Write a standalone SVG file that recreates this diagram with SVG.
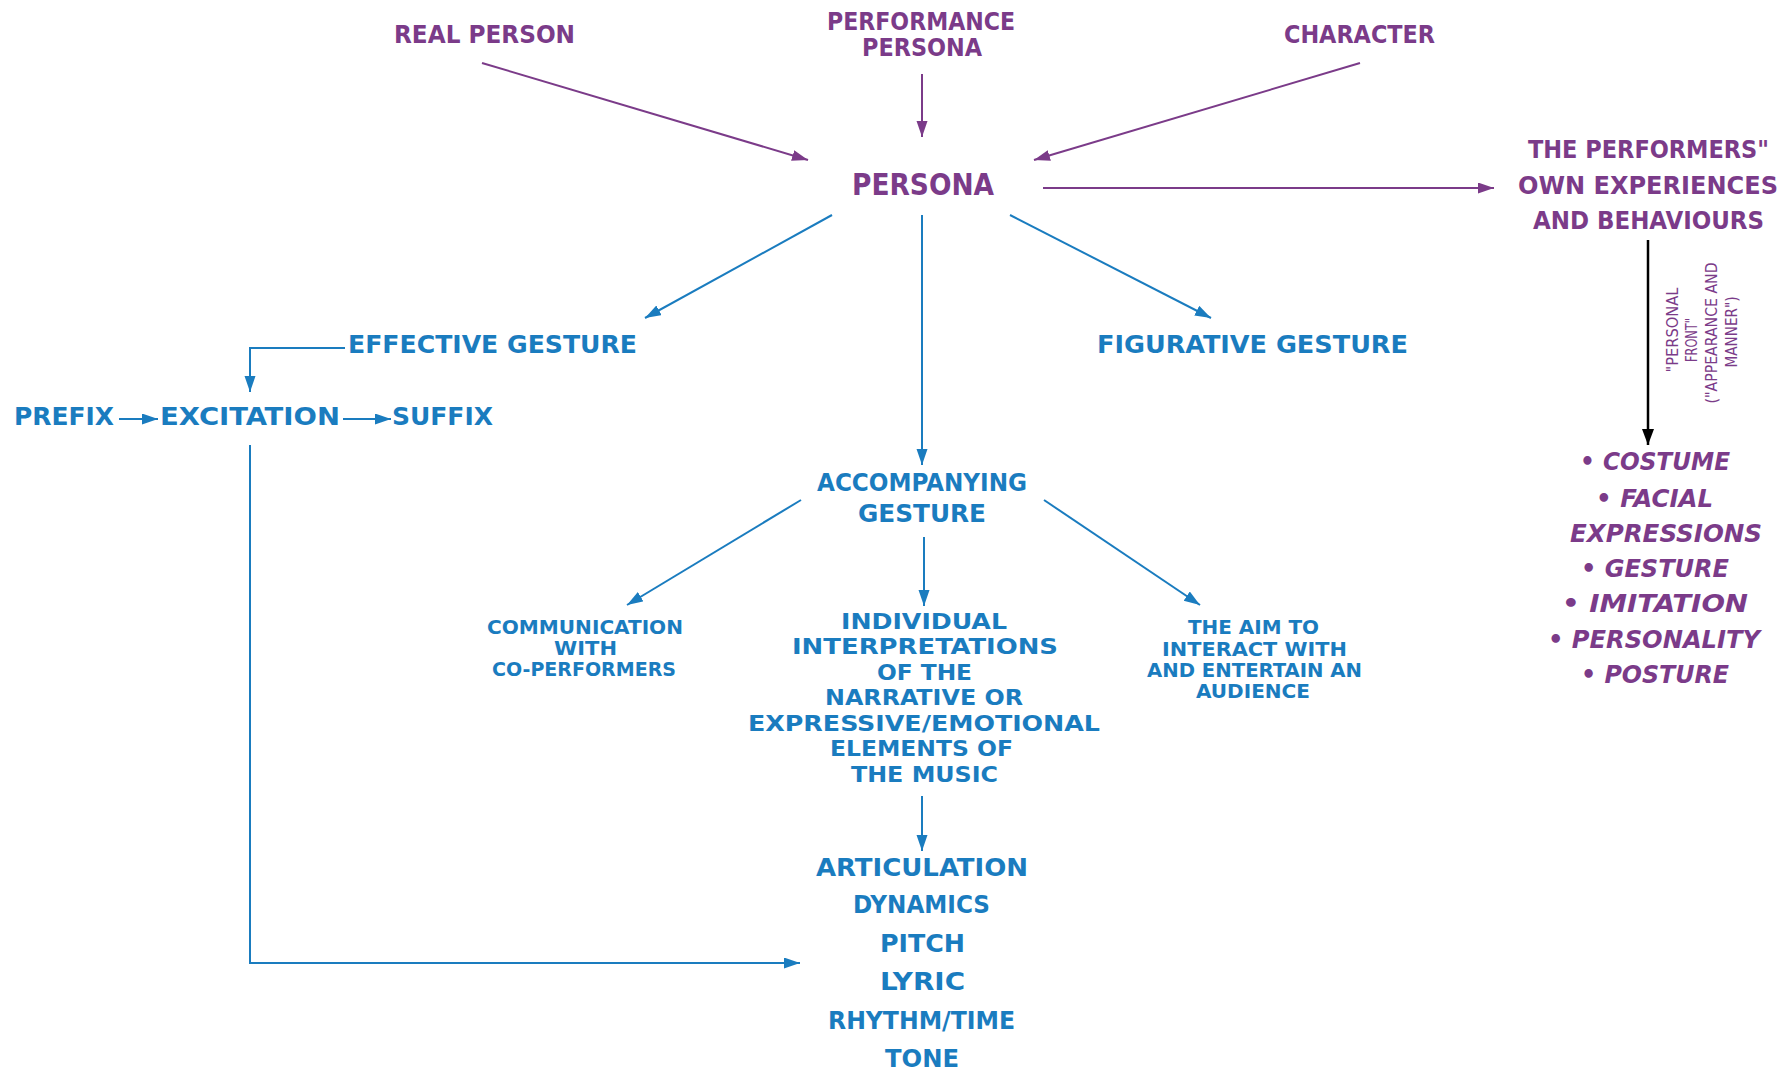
<svg xmlns="http://www.w3.org/2000/svg" width="1791" height="1072" viewBox="0 0 1791 1072">
  <defs>
    <style>
      text { font-family: "DejaVu Sans Condensed", "DejaVu Sans", sans-serif; font-weight: bold; }
      .p { fill: #7b3b89; }
      .b { fill: #1a7cbf; }
      .s25 { font-size: 25px; }
      .s22 { font-size: 22px; }
      .s19 { font-size: 19px; }
      .s30 { font-size: 30px; }
      .s16 { font-size: 16px; font-weight: normal; }
      .it { font-style: italic; font-size: 24px; }
      .lp { stroke: #7b3b89; stroke-width: 2; fill: none; marker-end: url(#ap); }
      .lb { stroke: #1a7cbf; stroke-width: 2; fill: none; marker-end: url(#ab); }
      .lk { stroke: #000; stroke-width: 2.5; fill: none; marker-end: url(#ak); }
    </style>
    <marker id="ap" markerUnits="userSpaceOnUse" markerWidth="17" markerHeight="12" refX="16" refY="5.5" orient="auto">
      <path d="M0,0 L16,5.5 L0,11 z" fill="#7b3b89"/>
    </marker>
    <marker id="ab" markerUnits="userSpaceOnUse" markerWidth="17" markerHeight="12" refX="16" refY="5.5" orient="auto">
      <path d="M0,0 L16,5.5 L0,11 z" fill="#1a7cbf"/>
    </marker>
    <marker id="ak" markerUnits="userSpaceOnUse" markerWidth="18" markerHeight="14" refX="16" refY="6" orient="auto">
      <path d="M0,0 L16,6 L0,12 z" fill="#000"/>
    </marker>
  </defs>
  <rect width="1791" height="1072" fill="#fff"/>

  <!-- connectors -->
  <g id="connectors">
    <path class="lp" d="M482,63 L808,160"/>
    <path class="lp" d="M922,74 L922,137"/>
    <path class="lp" d="M1360,63 L1034,160"/>
    <path class="lp" d="M1043,188 L1494,188"/>
    <path class="lk" d="M1648,240 L1648,445"/>
    <path class="lb" d="M832,215 L645,318"/>
    <path class="lb" d="M922,215 L922,465"/>
    <path class="lb" d="M1010,215 L1211,318"/>
    <path class="lb" d="M345,348 L250,348 L250,392"/>
    <path class="lb" d="M119,419 L158,419"/>
    <path class="lb" d="M343,419 L391,419"/>
    <path class="lb" d="M250,445 L250,963 L800,963"/>
    <path class="lb" d="M801,500 L627,605"/>
    <path class="lb" d="M924,537 L924,606"/>
    <path class="lb" d="M1044,500 L1200,605"/>
    <path class="lb" d="M922,796 L922,851"/>
  </g>

  <g id="real-person"><text class="p s25" x="394" y="43" textLength="181" lengthAdjust="spacingAndGlyphs">REAL PERSON</text></g>
  <g id="performance-persona">
    <text class="p s25" x="827" y="30" textLength="188" lengthAdjust="spacingAndGlyphs">PERFORMANCE</text>
    <text class="p s25" x="862" y="56" textLength="120" lengthAdjust="spacingAndGlyphs">PERSONA</text>
  </g>
  <g id="character"><text class="p s25" x="1284" y="43" textLength="151" lengthAdjust="spacingAndGlyphs">CHARACTER</text></g>
  <g id="persona"><text class="p s30" x="852" y="195" textLength="142" lengthAdjust="spacingAndGlyphs">PERSONA</text></g>
  <g id="own-experiences">
    <text class="p s25" x="1528" y="158" textLength="241" lengthAdjust="spacingAndGlyphs">THE PERFORMERS"</text>
    <text class="p s25" x="1518" y="194" textLength="260" lengthAdjust="spacingAndGlyphs">OWN EXPERIENCES</text>
    <text class="p s25" x="1533" y="229" textLength="231" lengthAdjust="spacingAndGlyphs">AND BEHAVIOURS</text>
  </g>
  <g id="personal-front-label">
    <text class="p s16" transform="translate(1678,330) rotate(-90)" text-anchor="middle" textLength="85" lengthAdjust="spacingAndGlyphs">"PERSONAL</text>
    <text class="p s16" transform="translate(1697,340) rotate(-90)" text-anchor="middle" textLength="44" lengthAdjust="spacingAndGlyphs">FRONT"</text>
    <text class="p s16" transform="translate(1717,333) rotate(-90)" text-anchor="middle" textLength="141" lengthAdjust="spacingAndGlyphs">("APPEARANCE AND</text>
    <text class="p s16" transform="translate(1737,332) rotate(-90)" text-anchor="middle" textLength="71" lengthAdjust="spacingAndGlyphs">MANNER")</text>
  </g>
  <g id="personal-front-list">
    <text class="p it" x="1580" y="470" textLength="150" lengthAdjust="spacingAndGlyphs">• COSTUME</text>
    <text class="p it" x="1596" y="507" textLength="117" lengthAdjust="spacingAndGlyphs">• FACIAL</text>
    <text class="p it" x="1570" y="542" textLength="192" lengthAdjust="spacingAndGlyphs">EXPRESSIONS</text>
    <text class="p it" x="1581" y="577" textLength="148" lengthAdjust="spacingAndGlyphs">• GESTURE</text>
    <text class="p it" x="1562" y="612" textLength="186" lengthAdjust="spacingAndGlyphs">• IMITATION</text>
    <text class="p it" x="1548" y="648" textLength="212" lengthAdjust="spacingAndGlyphs">• PERSONALITY</text>
    <text class="p it" x="1581" y="683" textLength="148" lengthAdjust="spacingAndGlyphs">• POSTURE</text>
  </g>

  <g id="effective-gesture"><text class="b s25" x="348" y="353" textLength="289" lengthAdjust="spacingAndGlyphs">EFFECTIVE GESTURE</text></g>
  <g id="figurative-gesture"><text class="b s25" x="1097" y="353" textLength="311" lengthAdjust="spacingAndGlyphs">FIGURATIVE GESTURE</text></g>
  <g id="prefix"><text class="b s25" x="14" y="425" textLength="100" lengthAdjust="spacingAndGlyphs">PREFIX</text></g>
  <g id="excitation"><text class="b s25" x="160" y="425" textLength="180" lengthAdjust="spacingAndGlyphs">EXCITATION</text></g>
  <g id="suffix"><text class="b s25" x="392" y="425" textLength="101" lengthAdjust="spacingAndGlyphs">SUFFIX</text></g>
  <g id="accompanying-gesture">
    <text class="b s25" x="817" y="491" textLength="210" lengthAdjust="spacingAndGlyphs">ACCOMPANYING</text>
    <text class="b s25" x="858" y="522" textLength="128" lengthAdjust="spacingAndGlyphs">GESTURE</text>
  </g>
  <g id="communication">
    <text class="b s19" x="487" y="634" textLength="196" lengthAdjust="spacingAndGlyphs">COMMUNICATION</text>
    <text class="b s19" x="554" y="655" textLength="63" lengthAdjust="spacingAndGlyphs">WITH</text>
    <text class="b s19" x="492" y="676" textLength="184" lengthAdjust="spacingAndGlyphs">CO-PERFORMERS</text>
  </g>
  <g id="interpretations">
    <text class="b s22" x="841" y="629" textLength="166" lengthAdjust="spacingAndGlyphs">INDIVIDUAL</text>
    <text class="b s22" x="792" y="654" textLength="266" lengthAdjust="spacingAndGlyphs">INTERPRETATIONS</text>
    <text class="b s22" x="877" y="680" textLength="95" lengthAdjust="spacingAndGlyphs">OF THE</text>
    <text class="b s22" x="825" y="705" textLength="198" lengthAdjust="spacingAndGlyphs">NARRATIVE OR</text>
    <text class="b s22" x="748" y="731" textLength="352" lengthAdjust="spacingAndGlyphs">EXPRESSIVE/EMOTIONAL</text>
    <text class="b s22" x="830" y="756" textLength="183" lengthAdjust="spacingAndGlyphs">ELEMENTS OF</text>
    <text class="b s22" x="851" y="782" textLength="147" lengthAdjust="spacingAndGlyphs">THE MUSIC</text>
  </g>
  <g id="audience">
    <text class="b s19" x="1188" y="634" textLength="131" lengthAdjust="spacingAndGlyphs">THE AIM TO</text>
    <text class="b s19" x="1162" y="656" textLength="185" lengthAdjust="spacingAndGlyphs">INTERACT WITH</text>
    <text class="b s19" x="1147" y="677" textLength="215" lengthAdjust="spacingAndGlyphs">AND ENTERTAIN AN</text>
    <text class="b s19" x="1196" y="698" textLength="114" lengthAdjust="spacingAndGlyphs">AUDIENCE</text>
  </g>
  <g id="musical-elements">
    <text class="b s25" x="816" y="876" textLength="212" lengthAdjust="spacingAndGlyphs">ARTICULATION</text>
    <text class="b s25" x="853" y="913" textLength="137" lengthAdjust="spacingAndGlyphs">DYNAMICS</text>
    <text class="b s25" x="880" y="952" textLength="85" lengthAdjust="spacingAndGlyphs">PITCH</text>
    <text class="b s25" x="880" y="990" textLength="85" lengthAdjust="spacingAndGlyphs">LYRIC</text>
    <text class="b s25" x="828" y="1029" textLength="187" lengthAdjust="spacingAndGlyphs">RHYTHM/TIME</text>
    <text class="b s25" x="885" y="1067" textLength="74" lengthAdjust="spacingAndGlyphs">TONE</text>
  </g>
</svg>
